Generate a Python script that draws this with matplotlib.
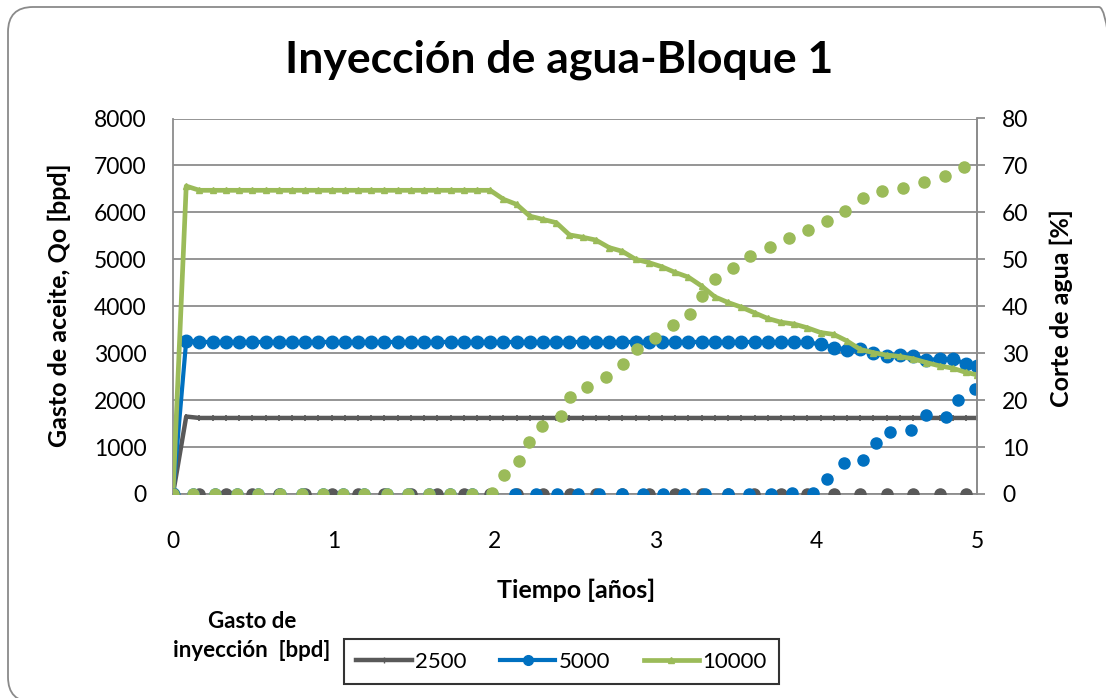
"""Inyección de agua - Bloque 1: gasto de aceite y corte de agua."""

import matplotlib
matplotlib.use("Agg")
import matplotlib.pyplot as plt
from matplotlib.lines import Line2D
from matplotlib.patches import FancyBboxPatch
from matplotlib.transforms import IdentityTransform

plt.rcParams["font.family"] = ["Lato", "DejaVu Sans"]

GRAY = "#595959"
BLUE = "#0070C0"
GREEN = "#9BBB59"
GRID = "#8c8c8c"

# tiempo de los gastos de aceite [días]
oil_days = [
    0, 30, 60, 90, 120, 150, 180, 210, 240, 270, 300, 330, 360, 390, 420, 450,
    480, 510, 540, 570, 600, 630, 660, 690, 720, 750, 780, 810, 840, 870, 900,
    930, 960, 990, 1020, 1050, 1080, 1110, 1140, 1170, 1200, 1230, 1260, 1290,
    1320, 1350, 1380, 1410, 1440, 1470, 1500, 1530, 1560, 1590, 1620, 1650,
    1680, 1710, 1740, 1770, 1800, 1825,
]

# gasto de aceite Qo [bpd] por gasto de inyección
qo_2500 = [
    0, 1650, 1620, 1620, 1620, 1620, 1620, 1620, 1620, 1620, 1620, 1620,
    1620, 1620, 1620, 1620, 1620, 1620, 1620, 1620, 1620, 1620, 1620, 1620,
    1620, 1620, 1620, 1620, 1620, 1620, 1620, 1620, 1620, 1620, 1620, 1620,
    1620, 1620, 1620, 1620, 1620, 1620, 1620, 1620, 1620, 1620, 1620, 1620,
    1620, 1620, 1620, 1620, 1620, 1620, 1620, 1620, 1620, 1620, 1620, 1620,
    1620, 1620,
]
qo_5000 = [
    0, 3270, 3240, 3240, 3240, 3240, 3240, 3240, 3240, 3240, 3240, 3240,
    3240, 3240, 3240, 3240, 3240, 3240, 3240, 3240, 3240, 3240, 3240, 3240,
    3240, 3240, 3240, 3240, 3240, 3240, 3240, 3240, 3240, 3240, 3240, 3240,
    3240, 3240, 3240, 3240, 3240, 3240, 3240, 3240, 3240, 3240, 3240, 3240,
    3230, 3190, 3120, 3075, 3085, 3010, 2930, 2955, 2950, 2850, 2880, 2870,
    2780, 2730,
]
qo_10000 = [
    0, 6560, 6470, 6470, 6470, 6470, 6470, 6470, 6470, 6470, 6470, 6470,
    6470, 6470, 6470, 6470, 6470, 6470, 6470, 6470, 6470, 6470, 6470, 6470,
    6470, 6280, 6170, 5920, 5850, 5780, 5520, 5470, 5410, 5250, 5170, 5000,
    4930, 4840, 4720, 4620, 4430, 4200, 4080, 3980, 3860, 3740, 3660, 3620,
    3540, 3440, 3400, 3260, 3080, 3010, 2960, 2930, 2880, 2800, 2730, 2680,
    2590, 2540,
]

# corte de agua [%]
wc_2500_t = [
    0, 0.164, 0.329, 0.493, 0.658, 0.822, 0.986, 1.151, 1.315, 1.479, 1.644,
    1.808, 1.973, 2.137, 2.301, 2.466, 2.630, 2.795, 2.959, 3.123, 3.288,
    3.452, 3.616, 3.781, 3.945, 4.110, 4.274, 4.438, 4.603, 4.767, 4.932,
]
wc_2500 = [
    0, 0, 0, 0, 0, 0, 0, 0, 0, 0, 0, 0, 0, 0, 0, 0,
    0, 0, 0, 0, 0, 0, 0, 0, 0, 0, 0, 0, 0, 0, 0,
]

wc_5000_t = [
    0, 0.126, 0.26, 0.396, 0.53, 0.665, 0.80, 0.93, 1.06, 1.19, 1.33, 1.46,
    1.59, 1.72, 1.86, 1.986, 2.124, 2.259, 2.39, 2.52, 2.65, 2.79, 2.92, 3.05,
    3.18, 3.31, 3.45, 3.58, 3.72, 3.85, 3.98, 4.07, 4.17, 4.29, 4.37, 4.46,
    4.59, 4.68, 4.81, 4.88, 4.99,
]
wc_5000 = [
    0, 0, 0, 0, 0, 0, 0, 0, 0, 0, 0, 0,
    0, 0, 0, 0, 0, 0, 0, 0, 0, 0, 0, 0,
    0, 0, 0, 0, 0, 0.3, 0.3, 3.3, 6.6, 7.3, 10.9, 13.3,
    13.6, 16.8, 16.3, 20.0, 22.4,
]

wc_10000_t = [
    0, 0.126, 0.26, 0.396, 0.53, 0.665, 0.80, 0.93, 1.06, 1.19, 1.33, 1.46,
    1.59, 1.72, 1.86, 1.986, 2.058, 2.151, 2.211, 2.296, 2.41, 2.472, 2.576,
    2.69, 2.797, 2.888, 2.998, 3.108, 3.217, 3.29, 3.37, 3.48, 3.59, 3.71,
    3.83, 3.95, 4.07, 4.18, 4.29, 4.41, 4.54, 4.67, 4.80, 4.92,
]
wc_10000 = [
    0, 0, 0, 0, 0, 0, 0, 0, 0, 0, 0, 0,
    0, 0, 0, 0.3, 4.0, 7.1, 11.1, 14.5, 16.6, 20.7, 22.8,
    24.9, 27.6, 30.9, 33.2, 35.9, 38.3, 42.1, 45.7, 48.2, 50.8, 52.7,
    54.5, 56.2, 58.2, 60.3, 63.0, 64.6, 65.1, 66.5, 67.7, 69.7,
]

labels = ["2500", "5000", "10000"]

W, H = 1106, 698
fig = plt.figure(figsize=(W / 100, H / 100), dpi=100)

# marco redondeado del gráfico (recortado a la derecha y abajo)
frame = FancyBboxPatch((8, -4), 1116, 695, boxstyle="round,pad=0,rounding_size=25",
                       transform=IdentityTransform(), facecolor="none",
                       edgecolor="#8a8a8a", linewidth=1.3, zorder=-10)
fig.patches.append(frame)

ax = fig.add_axes([173 / W, 1 - 494 / H, 804 / W, 375.5 / H])
ax.patch.set_alpha(0)
ax2 = ax.twinx()

t_oil = [d / 365 for d in oil_days]

ax.plot(t_oil, qo_2500, color=GRAY, lw=3.2, marker="|", ms=4, mew=1.2, zorder=3)
ax.plot(t_oil, qo_5000, color=BLUE, lw=3.0, marker="o", ms=9, zorder=4)
ax.plot(t_oil, qo_10000, color=GREEN, lw=3.4, marker="^", ms=4.5, zorder=5)

ax2.plot(wc_2500_t, wc_2500, ls="none", marker="o", ms=8, color=GRAY, mec=GRAY)
ax2.plot(wc_5000_t, wc_5000, ls="none", marker="o", ms=8, color=BLUE, mec=BLUE)
ax2.plot(wc_10000_t, wc_10000, ls="none", marker="o", ms=8, color=GREEN, mec=GREEN)

ax.set_xlim(0, 5)
ax.set_ylim(0, 8000)
ax2.set_ylim(0, 80)
ax.set_xticks(range(0, 6))
ax.set_yticks(range(0, 8001, 1000))
ax2.set_yticks(range(0, 81, 10))

ax.yaxis.grid(True, color=GRID, lw=1.3)
ax.set_axisbelow(True)

for a in (ax, ax2):
    a.spines["top"].set_visible(False)
    for side in ("left", "right", "bottom"):
        a.spines[side].set_color(GRID)
        a.spines[side].set_linewidth(1.3)
ax2.spines["left"].set_visible(False)
ax2.spines["bottom"].set_visible(False)

ax.tick_params(axis="x", length=0, pad=27, labelsize=16.5)
ax.tick_params(axis="y", length=0, pad=19, labelsize=16.5)
ax2.tick_params(axis="y", length=6, width=1.3, color=GRID, direction="out",
                pad=12, labelsize=16.5)

fig.text(559 / W, 1 - 72 / H, "Inyección de agua-Bloque 1", ha="center",
         va="baseline", fontsize=32, fontweight="bold")
fig.text(59 / W, 1 - 305 / H, "Gasto de aceite, Qo [bpd]", rotation=90,
         ha="center", va="center", fontsize=18, fontweight="bold")
fig.text(1061 / W, 1 - 308 / H, "Corte de agua [%]", rotation=90,
         ha="center", va="center", fontsize=18, fontweight="bold")
fig.text(576 / W, 1 - 590 / H, "Tiempo [años]", ha="center", va="center",
         fontsize=18, fontweight="bold")
fig.text(252 / W, 1 - 636 / H, "Gasto de\ninyección  [bpd]", ha="center",
         va="center", multialignment="center", fontsize=16, fontweight="bold",
         linespacing=1.45)

handles = [
    Line2D([], [], color=GRAY, lw=3.2, marker="|", ms=4),
    Line2D([], [], color=BLUE, lw=3.0, marker="o", ms=7),
    Line2D([], [], color=GREEN, lw=3.4, marker="^", ms=5),
]
leg = fig.legend(handles, labels, loc="center", ncol=3,
                 bbox_to_anchor=(561.5 / W, 1 - 661.5 / H), fontsize=16,
                 frameon=True, fancybox=False, edgecolor="black",
                 handlelength=2.5, handletextpad=0.15, columnspacing=1.5,
                 borderpad=0.55)
leg.get_frame().set_linewidth(1.5)

fig.savefig("out.png", dpi=100)
